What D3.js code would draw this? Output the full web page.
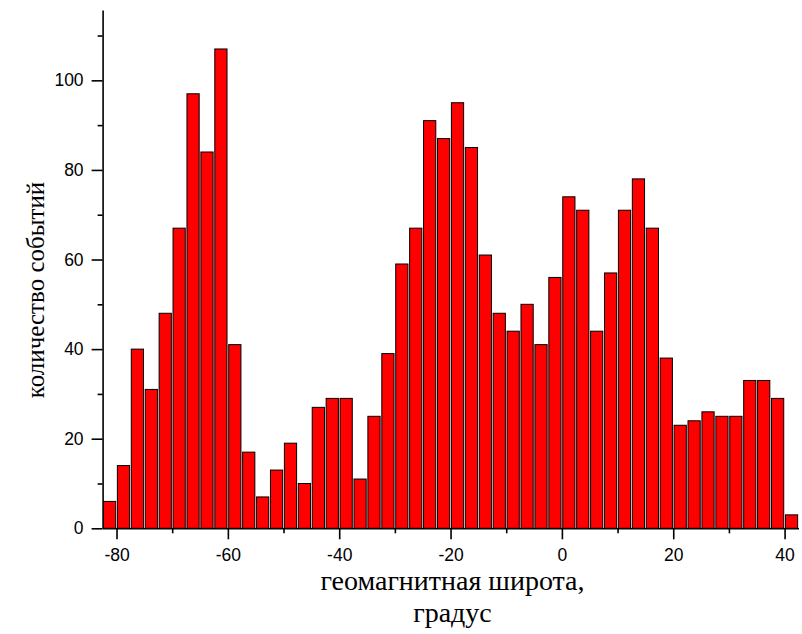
<!DOCTYPE html>
<html>
<head>
<meta charset="utf-8">
<script src="https://cdn.jsdelivr.net/npm/d3@7"></script>
<style>
  html, body { margin: 0; padding: 0; background: #fff; }
  svg { display: block; }
  .tick text { font-family: "Liberation Sans", Arial, sans-serif; font-size: 17.5px; fill: #000; }
  .axis-title { font-family: "Liberation Serif", "Times New Roman", serif; fill: #000; }
</style>
</head>
<body>
<svg id="chart" width="802" height="634"></svg>
<script>
// Left edges of the 2.5-degree geomagnetic latitude bins
const binStart = [
  -82.5, -80, -77.5, -75, -72.5, -70, -67.5, -65, -62.5, -60,
  -57.5, -55, -52.5, -50, -47.5, -45, -42.5, -40, -37.5, -35,
  -32.5, -30, -27.5, -25, -22.5, -20, -17.5, -15, -12.5, -10,
  -7.5, -5, -2.5, 0, 2.5, 5, 7.5, 10, 12.5, 15,
  17.5, 20, 22.5, 25, 27.5, 30, 32.5, 35, 37.5, 40
];
const binWidth = 2.5;

// Number of events in each bin
const eventCount = [
  6, 14, 40, 31, 48, 67, 97, 84, 107, 41,
  17, 7, 13, 19, 10, 27, 29, 29, 11, 25,
  39, 59, 67, 91, 87, 95, 85, 61, 48, 44,
  50, 41, 56, 74, 71, 44, 57, 71, 78, 67,
  38, 23, 24, 26, 25, 25, 33, 33, 29, 3
];

// Axis ticks
const xMajorTicks = [-80, -60, -40, -20, 0, 20, 40];
const xMinorTicks = [-70, -50, -30, -10, 10, 30];
const yMajorTicks = [0, 20, 40, 60, 80, 100];
const yMinorTicks = [10, 30, 50, 70, 90, 110];

const xTitleLines = ["геомагнитная широта,", "градус"];
const yTitle = "количество событий";

const svg = d3.select("#chart");

const x = d3.scaleLinear().domain([-82.5, 42.5]).range([102.6, 798.5]);
const y = d3.scaleLinear().domain([0, 115.7]).range([528.3, 10]);

const bins = binStart.map((s, i) => ({ start: s, count: eventCount[i] }));
const inset = 0.85;

// Bars
svg.append("g")
  .selectAll("rect")
  .data(bins)
  .join("rect")
    .attr("x", d => x(d.start) + inset)
    .attr("width", d => x(d.start + binWidth) - x(d.start) - 2 * inset)
    .attr("y", d => y(d.count))
    .attr("height", d => y(0) - y(d.count))
    .attr("fill", "#ff0000")
    .attr("stroke", "#000")
    .attr("stroke-width", 1);

function styleAxis(g) {
  g.selectAll("path, line").attr("stroke", "#000").attr("stroke-width", 1.6);
}

// X axis: minor then major ticks
svg.append("g")
  .attr("transform", `translate(0,${y(0)})`)
  .call(d3.axisBottom(x).tickValues(xMinorTicks).tickSize(5).tickSizeOuter(0).tickFormat(""))
  .call(styleAxis);
svg.append("g")
  .attr("transform", `translate(0,${y(0)})`)
  .call(d3.axisBottom(x).tickValues(xMajorTicks).tickSize(11).tickSizeOuter(0).tickPadding(9)
        .tickFormat(d3.format("d")))
  .call(styleAxis)
  .call(g => g.select(".domain").remove());

// Y axis: minor then major ticks
svg.append("g")
  .attr("transform", `translate(${x(-82.5)},0)`)
  .call(d3.axisLeft(y).tickValues(yMinorTicks).tickSize(5).tickSizeOuter(0).tickFormat(""))
  .call(styleAxis);
svg.append("g")
  .attr("transform", `translate(${x(-82.5)},0)`)
  .call(d3.axisLeft(y).tickValues(yMajorTicks).tickSize(11).tickSizeOuter(0).tickPadding(8)
        .tickFormat(d3.format("d")))
  .call(styleAxis)
  .call(g => g.select(".domain").remove());

// Tick labels use a plain hyphen for negative numbers
svg.selectAll(".tick text").text(function() { return this.textContent.replace("−", "-"); });

// Axis titles
const xt = svg.append("text")
  .attr("class", "axis-title")
  .attr("font-size", 28)
  .attr("text-anchor", "middle");
xt.selectAll("tspan")
  .data(xTitleLines)
  .join("tspan")
    .attr("x", 452.5)
    .attr("y", (d, i) => 590 + i * 32)
    .text(d => d);

svg.append("text")
  .attr("class", "axis-title")
  .attr("font-size", 25)
  .attr("text-anchor", "middle")
  .attr("transform", "translate(43.5,290) rotate(-90)")
  .text(yTitle);
</script>
</body>
</html>
